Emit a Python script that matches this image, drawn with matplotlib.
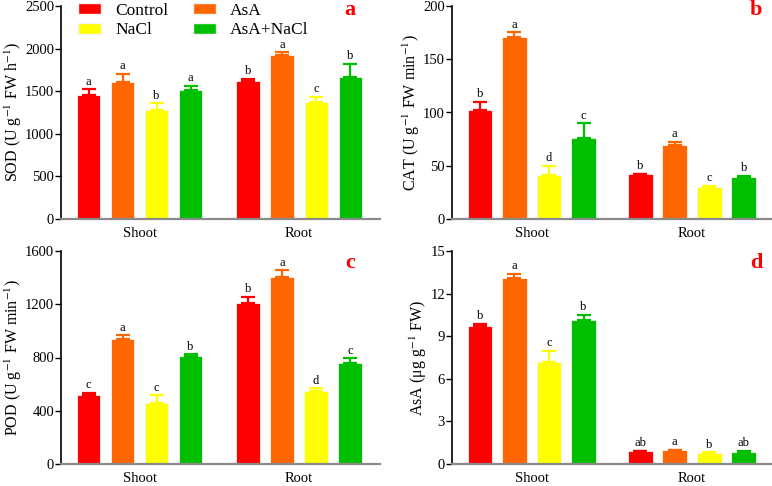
import numpy as np
import matplotlib
matplotlib.use("Agg")
import matplotlib.pyplot as plt
from matplotlib.patches import Patch

plt.rcParams['font.family'] = ['Liberation Serif', 'DejaVu Serif']
plt.rcParams['mathtext.fontset'] = 'stix'

treatments = ["Control", "AsA", "NaCl", "AsA+NaCl"]
colors = ["#FF0000", "#FF6600", "#FFFF00", "#00BF00"]
tissues = ["Shoot", "Root"]

# values: [shoot x4, root x4]
sod = [1460, 1611, 1279, 1514, 1620, 1925, 1373, 1670]
sod_err = [60, 90, 80, 50, 27, 31, 60, 150]
sod_let = ["a", "a", "b", "a", "b", "a", "c", "b"]

cat = [102, 171.2, 41, 75.8, 42, 69.8, 30, 39.7]
cat_err = [8, 4, 9, 14, 0.5, 2.5, 1, 1]
cat_let = ["b", "a", "d", "c", "b", "a", "c", "b"]

pod = [520, 939, 458, 808, 1212, 1407, 551, 759]
pod_err = [13, 27, 58, 15, 42, 47, 17, 34]
pod_let = ["c", "a", "c", "b", "b", "a", "d", "c"]

asa = [9.74, 13.1, 7.2, 10.16, 0.89, 0.96, 0.8, 0.88]
asa_err = [0.15, 0.28, 0.75, 0.35, 0.03, 0.03, 0.02, 0.03]
asa_let = ["b", "a", "c", "b", "ab", "a", "b", "ab"]

fig = plt.figure(figsize=(7.72, 4.86), dpi=100)
W, H = 772, 486


def add_ax(l, t, r, b):
    return fig.add_axes([l / W, 1 - b / H, (r - l) / W, (b - t) / H])


def panel(ax, vals, errs, lets, ymax, step, ylabel, tag, offset, width, xlim,
          labx, tagx, tagy):
    x = np.array([0, 1, 2, 3, offset, offset + 1, offset + 2, offset + 3])
    cols = colors * 2
    for i in range(8):
        ax.bar(x[i], vals[i], width=width, color=cols[i], edgecolor="#f4f4f4",
               linewidth=0.6, zorder=2)
        ax.errorbar(x[i], vals[i], yerr=[[0], [errs[i]]], color=cols[i],
                    capsize=5, capthick=1.6, elinewidth=1.6, zorder=3)
        ax.text(x[i], vals[i] + errs[i] + ymax * 0.008, lets[i], ha="center",
                va="bottom", fontsize=9)
    ax.set_ylim(0, ymax)
    ax.set_xlim(*xlim)
    ax.set_yticks(np.arange(0, ymax + step / 2, step))
    ax.set_xticks([1.5, offset + 1.5])
    ax.set_xticklabels(tissues, fontsize=10.5)
    ax.tick_params(axis="x", length=0, pad=6)
    ax.tick_params(axis="y", direction="out", length=4, width=1, labelsize=10.5, pad=1)
    ax.spines["top"].set_visible(False)
    ax.spines["right"].set_visible(False)
    ax.spines["left"].set_linewidth(1.2)
    ax.spines["bottom"].set_linewidth(1.6)
    ax.spines["bottom"].set_color("#8a8a8a")
    ax.set_ylabel(ylabel, fontsize=11.5)
    ax.yaxis.set_label_coords(labx, 0.5)
    ax.text(tagx, tagy, tag, transform=ax.transAxes, color="#FF0000",
            fontsize=16, fontweight="bold", ha="center", va="baseline")


ax1 = add_ax(61, 6, 380, 219)
ax2 = add_ax(452, 6, 772, 219)
ax3 = add_ax(61, 251, 380, 464)
ax4 = add_ax(452, 251, 772, 464)

panel(ax1, sod, sod_err, sod_let, 2500, 500,
      r"SOD (U g$^{-1}$ FW h$^{-1}$)", "a", 4.69, 0.68, (-0.81, 8.57),
      -0.116, 0.906, 0.958)
panel(ax2, cat, cat_err, cat_let, 200, 50,
      r"CAT (U g$^{-1}$ FW min$^{-1}$)", "b", 4.64, 0.72, (-0.81, 8.46),
      -0.094, 0.948, 0.958)
panel(ax3, pod, pod_err, pod_let, 1600, 400,
      r"POD (U g$^{-1}$ FW min$^{-1}$)", "c", 4.69, 0.7, (-0.81, 8.57),
      -0.116, 0.907, 0.92)
panel(ax4, asa, asa_err, asa_let, 15, 3,
      r"AsA (μg g$^{-1}$ FW)", "d", 4.64, 0.72, (-0.81, 8.46),
      -0.072, 0.95, 0.92)

# column-first fill: Control, NaCl | AsA, AsA+NaCl
order = [0, 2, 1, 3]
handles = [Patch(facecolor=colors[i], edgecolor="#f4f4f4") for i in order]
ax1.legend(handles, [treatments[i] for i in order], ncol=2, frameon=False,
           fontsize=12.5, loc="upper left", bbox_to_anchor=(0.053, 1.015),
           handlelength=1.35, handleheight=0.62, handletextpad=0.8,
           columnspacing=1.4, labelspacing=0.2, borderaxespad=0, borderpad=0)

fig.savefig("out.png", dpi=100)
